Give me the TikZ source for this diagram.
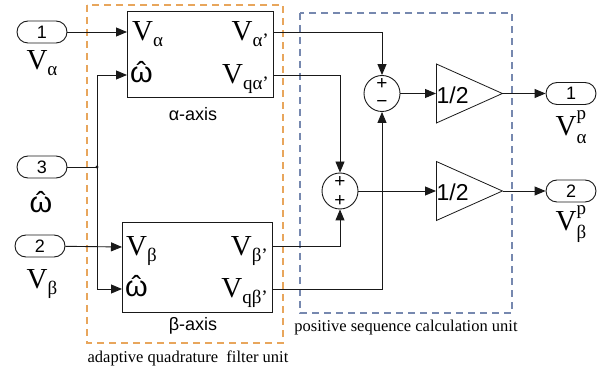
\documentclass[tikz,border=0pt]{standalone}
\usepackage{fontspec}
\setmainfont{Liberation Serif}
\setsansfont{Liberation Sans}
\usetikzlibrary{arrows.meta,shapes.geometric}
\definecolor{ln}{RGB}{25,25,25}
\definecolor{orng}{RGB}{232,166,92}
\definecolor{blu}{RGB}{118,136,175}
\newcommand\subf{\fontsize{19}{19}\selectfont}
\newcommand\Vsub[1]{V\raisebox{-0.2em}{\subf #1}}
\newcommand\Vsp[2]{V\rlap{\raisebox{0.55em}{\subf #1}}\raisebox{-0.3em}{\subf #2}}
\newcommand\omh{{\sffamily\ooalign{ω\cr\hidewidth ˆ\hidewidth\cr}}}
\tikzset{
  arr/.style={draw=ln, line width=0.9pt, -{Triangle[length=11pt,width=9pt]}},
  wire/.style={draw=ln, line width=0.9pt},
  port/.style={draw=ln, line width=0.9pt, rectangle, rounded corners=11pt, minimum width=50pt, minimum height=22pt, inner sep=0pt, font=\sffamily\fontsize{18}{18}\selectfont},
  blk/.style={draw=ln, line width=0.9pt, rectangle, inner sep=0pt},
  sumc/.style={draw=ln, line width=0.9pt, circle, minimum size=36pt, inner sep=0pt},
  gain/.style={draw=ln, line width=0.8pt, isosceles triangle, isosceles triangle stretches, minimum width=59pt, minimum height=66pt, inner sep=0pt, anchor=lower side},
  big/.style={font=\fontsize{29}{31}\selectfont, inner sep=0pt},
  omg/.style={font=\fontsize{29}{31}\selectfont, inner sep=0pt},
  sgn/.style={font=\sffamily\fontsize{19}{19}\selectfont, inner sep=0pt},
  lbl/.style={font=\sffamily\fontsize{18}{18}\selectfont, inner sep=0pt},
  captext/.style={font=\fontsize{16.5}{16.5}\selectfont, inner sep=0pt},
  obox/.style={draw=orng, line width=1.05pt, dash pattern=on 7pt off 5pt},
  bbox/.style={draw=blu, line width=1.05pt, dash pattern=on 7pt off 5pt}
}
\begin{document}
\begin{tikzpicture}[x=1pt,y=-1pt]
\useasboundingbox[fill=white] (0,0) rectangle (605,371);
% dashed frames
\draw[obox] (87,5) rectangle (283,343);
\draw[bbox] (300,13) rectangle (512,313);
\node[captext] (capo) at (188,358) {adaptive quadrature\ \ filter unit};
\node[captext] (capb) at (406,328) {positive sequence calculation unit};
% inports
\node[port] (p1) at (42,32) {1};
\node[big] (p1l) at (42,63) {\Vsub{α}};
\node[port] (p3) at (42,167) {3};
\node[omg] (p3l) at (41,205) {\omh};
\node[port] (p2) at (40,246) {2};
\node[big] (p2l) at (42,284) {\Vsub{β}};
% blocks
\node[blk, minimum width=146pt, minimum height=86pt] (a) at (200,54) {};
\node[lbl] (al) at (193,114) {α-axis};
\node[blk, minimum width=150pt, minimum height=90pt] (b) at (197,267) {};
\node[lbl] (bl) at (193,326) {β-axis};
% block port coordinates
\coordinate (ai1) at (127,32);
\coordinate (ai2) at (127,75);
\coordinate (ao1) at (273,32);
\coordinate (ao2) at (273,75);
\coordinate (bi1) at (122,247);
\coordinate (bi2) at (122,289);
\coordinate (bo1) at (272,246);
\coordinate (bo2) at (272,289);
% block texts
\node[big, anchor=base west] (t1) at (132,41) {\Vsub{α}};
\node[omg, anchor=base west] (t2) at (130,83) {\omh};
\node[big, anchor=base east] (t3) at (269,41) {\Vsub{α’}};
\node[big, anchor=base east] (t4) at (269,84) {\Vsub{qα’}};
\node[big, anchor=base west] (t5) at (126,256) {\Vsub{β}};
\node[omg, anchor=base west] (t6) at (125,297) {\omh};
\node[big, anchor=base east] (t7) at (268,256) {\Vsub{β’}};
\node[big, anchor=base east] (t8) at (268,298) {\Vsub{qβ’}};
% sums
\node[sumc] (s1) at (382,93.5) {};
\node[sgn] (s1a) at (382,84.5) {+};
\node[sgn] (s1b) at (382,104.5) {−};
\node[sumc] (s2) at (340,191) {};
\node[sgn] (s2a) at (340,182) {+};
\node[sgn] (s2b) at (340,201.5) {+};
% gains
\node[gain] (g1) at (436,93.5) {};
\node[font=\sffamily\fontsize{23}{23}\selectfont, inner sep=0pt, anchor=west] (g1t) at (436.5,95) {1/2};
\node[gain] (g2) at (436,191) {};
\node[font=\sffamily\fontsize{23}{23}\selectfont, inner sep=0pt, anchor=west] (g2t) at (436.5,192.5) {1/2};
% outports
\node[port] (o1) at (571,93.5) {1};
\node[big] (o1l) at (571,127) {\Vsp{p}{α}};
\node[port] (o2) at (571,191) {2};
\node[big] (o2l) at (571,224) {\Vsp{p}{β}};
% junction
\coordinate (j) at (97,167);
\fill[ln] (j) circle (1.6pt);
% connectors
\draw[arr] (p1) -- (ai1);
\draw[wire] (p3) -- (j);
\draw[arr] (j) |- (ai2);
\draw[arr] (j) |- (bi2);
\draw[arr] (p2) -- (bi1);
\draw[arr] (ao1) -| (s1);
\draw[arr] (bo2) -| (s1);
\draw[arr] (ao2) -| (s2);
\draw[arr] (bo1) -| (s2);
\draw[arr] (s1) -- (g1);
\draw[arr] (s2) -- (g2);
\draw[arr] (g1.apex) -- (o1);
\draw[arr] (g2.apex) -- (o2);
\end{tikzpicture}
\end{document}
